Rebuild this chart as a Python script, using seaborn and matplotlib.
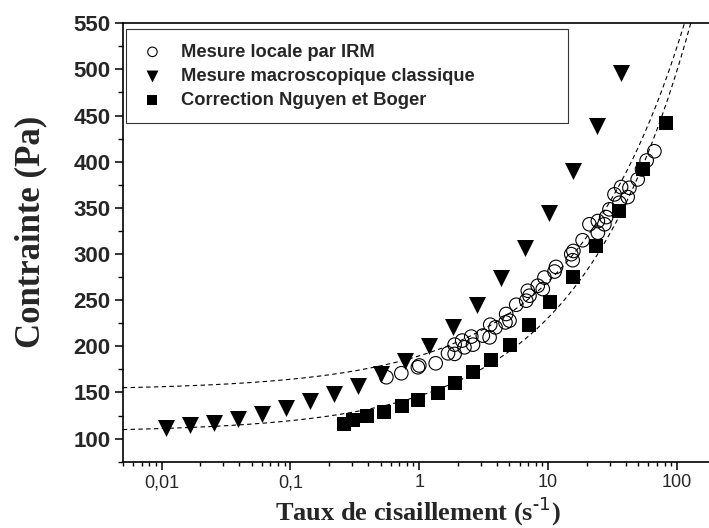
import numpy as np
import pandas as pd
import matplotlib
matplotlib.use("Agg")
import matplotlib.pyplot as plt
import seaborn as sns
from matplotlib.ticker import FixedLocator, MultipleLocator, NullFormatter

# Mesure locale par IRM (open circles)
irm_rate = [0.555, 0.725, 0.975, 1.0, 1.34, 1.67, 1.88, 1.88, 2.15, 2.24, 2.61, 2.53,
            3.11, 3.51, 3.55, 3.90, 4.66, 5.01, 4.72, 5.65, 6.75, 7.16, 6.95, 8.30,
            9.08, 9.35, 11.5, 11.2, 15.1, 15.5, 15.7, 18.5, 20.9, 24.3, 24.3, 27.3,
            28.2, 29.9, 32.7, 35.7, 36.8, 41.4, 42.7, 49.5, 53.5, 58.1, 66.7]
irm_stress = [166.5, 170.8, 177.3, 179.2, 181.6, 192.4, 191.8, 201.8, 206.2, 198.9, 201.8, 210.5,
              211.6, 209.7, 223.4, 220.5, 225.9, 227.8, 235.0, 245.0, 249.4, 254.8, 260.2, 265.6,
              262.0, 274.5, 286.0, 281.0, 299.8, 293.3, 303.3, 314.9, 332.2, 323.1, 335.7, 332.2,
              340.0, 348.4, 364.6, 355.5, 372.5, 361.7, 371.7, 380.8, 391.6, 401.3, 411.3]

# Mesure macroscopique classique (filled down triangles)
macro_rate = [0.0108, 0.0166, 0.0254, 0.0393, 0.0603, 0.092, 0.141, 0.217, 0.333, 0.507,
              0.78, 1.19, 1.82, 2.80, 4.27, 6.55, 10.1, 15.5, 23.8, 36.8]
macro_stress = [111.4, 114.4, 116.8, 121.6, 126.2, 133.5, 140.3, 147.8, 157.2, 170.2,
                184.6, 200.8, 221.3, 245.0, 273.9, 306.9, 344.7, 389.5, 438.3, 495.9]

# Correction Nguyen et Boger (filled squares)
corr_rate = [0.259, 0.305, 0.393, 0.532, 0.738, 0.975, 1.39, 1.90, 2.61, 3.61,
             5.01, 7.08, 10.4, 15.5, 23.3, 35.2, 54.1, 82.2]
corr_stress = [116.2, 119.8, 124.1, 128.7, 134.9, 141.4, 149.2, 160.0, 171.9, 185.3,
               201.8, 223.1, 247.5, 275.3, 308.7, 346.5, 391.6, 441.9]

# Herschel-Bulkley fits (tau0, K, n) drawn as dashed curves
fit_upper = (152.5, 37.2, 0.5)
fit_lower = (107.0, 39.2, 0.5)

x_ticks = [0.01, 0.1, 1, 10, 100]
x_labels = ["0,01", "0,1", "1", "10", "100"]
y_ticks = [100, 150, 200, 250, 300, 350, 400, 450, 500, 550]

sns.set_theme(style="ticks")
plt.rcParams["font.family"] = ["Liberation Sans", "DejaVu Sans"]
serif = ["Liberation Serif", "DejaVu Serif"]

fig = plt.figure(figsize=(7.09, 5.28), dpi=100)
ax = fig.add_axes([0.1732, 0.1256, 0.8268, 0.8304])

grid = np.logspace(np.log10(0.005), np.log10(200), 300)
fits = pd.concat([
    pd.DataFrame({"rate": grid, "stress": p[0] + p[1] * grid ** p[2], "fit": name})
    for name, p in [("upper", fit_upper), ("lower", fit_lower)]
])
for name, sub in fits.groupby("fit"):
    sns.lineplot(data=sub, x="rate", y="stress", ax=ax, color="black", lw=0.8,
                 linestyle=(0, (4, 3)), zorder=1, legend=False)

sns.scatterplot(x=irm_rate, y=irm_stress, ax=ax, marker="o", s=95, fc="none",
                ec="black", linewidth=0.8, label="Mesure locale par IRM", zorder=3)
sns.scatterplot(x=macro_rate, y=macro_stress, ax=ax, marker="v", s=150, color="black",
                linewidth=0, label="Mesure macroscopique classique", zorder=3)
sns.scatterplot(x=corr_rate, y=corr_stress, ax=ax, marker="s", s=95, color="black",
                linewidth=0, label="Correction Nguyen et Boger", zorder=3)

ax.set_xscale("log")
ax.set_xlim(0.005, 177)
ax.set_ylim(75, 550)
ax.xaxis.set_major_locator(FixedLocator(x_ticks))
ax.set_xticklabels(x_labels)
ax.xaxis.set_minor_formatter(NullFormatter())
ax.set_yticks(y_ticks)
ax.yaxis.set_minor_locator(MultipleLocator(25))

for lab in ax.get_yticklabels():
    lab.set_fontweight("bold")
    lab.set_fontsize(16)
for lab in ax.get_xticklabels():
    lab.set_fontsize(13)

ax.tick_params(which="major", length=6, width=1.1, color="black", direction="out", pad=3)
ax.tick_params(which="minor", length=3, width=1.0, color="black", direction="out")
ax.tick_params(axis="y", which="minor", length=3.5)
for side in ["left", "bottom", "top"]:
    ax.spines[side].set_linewidth(1.2)
    ax.spines[side].set_color("black")
ax.spines["right"].set_visible(False)

ax.set_xlabel("Taux de cisaillement (s$^{\\mathregular{\u2010}1}$)", fontsize=19,
              fontweight="bold", family=serif)
ax.set_ylabel("Contrainte (Pa)", fontsize=25, fontweight="bold", family=serif)
ax.xaxis.set_label_coords(0.503, -0.075)
ax.yaxis.set_label_coords(-0.128, 0.525)

leg = ax.legend(loc="upper left", bbox_to_anchor=(0.0055, 0.986, 0.754, 0.0), mode="expand",
                frameon=True, fancybox=False, edgecolor="black", borderpad=0.78,
                labelspacing=0.39, handlelength=1.32, handletextpad=0.88, markerscale=0.7,
                borderaxespad=0, prop={"family": "Liberation Sans", "weight": "bold", "size": 13.2})
leg.get_frame().set_linewidth(0.8)

fig.savefig("out.png", dpi=100)
